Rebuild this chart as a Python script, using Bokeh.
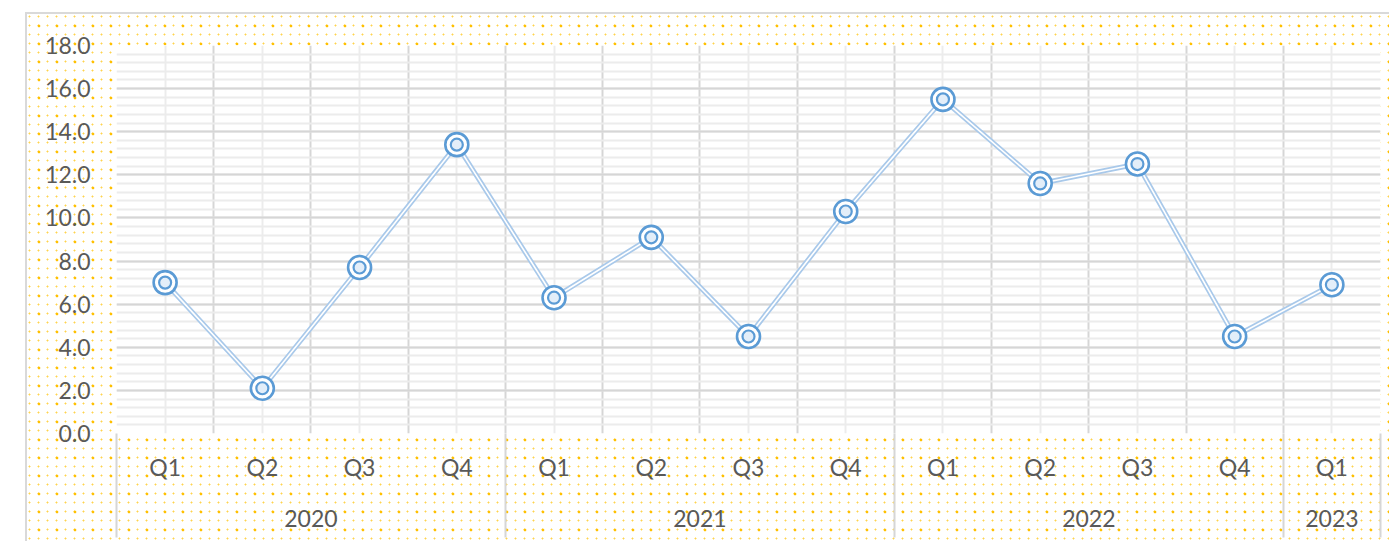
from bokeh.plotting import figure
from bokeh.models import FixedTicker, LinearAxis, Range1d, ColumnDataSource
from bokeh.embed import file_html
from bokeh.resources import INLINE

# ---- data ----
years = ["2020", "2021", "2022", "2023"]
quarters_per_year = [4, 4, 4, 1]
quarters = ["Q1", "Q2", "Q3", "Q4", "Q1", "Q2", "Q3", "Q4", "Q1", "Q2", "Q3", "Q4", "Q1"]
values = [7.0, 2.1, 7.7, 13.4, 6.3, 9.1, 4.5, 10.3, 15.5, 11.6, 12.5, 4.5, 6.9]
y_ticks = [0, 2, 4, 6, 8, 10, 12, 14, 16, 18]

FONT = "Lato"
TEXT = "#595959"
n = len(quarters)
centers = [i + 0.5 for i in range(n)]
bounds = [0]
for c in quarters_per_year:
    bounds.append(bounds[-1] + c)
year_centers = [(bounds[i] + bounds[i + 1]) / 2 for i in range(len(years))]
y_minor = [round(k * 0.4, 2) for k in range(0, 46)]

src = ColumnDataSource(dict(x=centers, y=values, q=quarters))

p = figure(width=1364, height=529, x_range=Range1d(0, n), y_range=Range1d(0, 18),
           output_backend="svg", toolbar_location=None,
           min_border_left=89, min_border_top=31, min_border_right=11, min_border_bottom=110)
p.margin = (12, 0, 0, 25)
p.border_fill_color = None
p.background_fill_color = "white"
p.outline_line_color = None
p.styles = {
    "background-image": ("radial-gradient(circle, #ffc000 1.1px, rgba(255,192,0,0) 1.7px), "
                         "radial-gradient(circle, #ffd34d 0.7px, rgba(255,192,0,0) 1.3px)"),
    "background-size": "18px 18px, 9px 9px",
    "background-position": "3px 3px, 7px 7px",
    "border-top": "2px solid #d9d9d9",
    "border-left": "2px solid #d9d9d9",
}

# y axis
yax = p.yaxis[0]
yax.ticker = FixedTicker(ticks=y_ticks, minor_ticks=y_minor)
yax.major_label_overrides = {t: f"{t:.1f}" for t in y_ticks}
yax.axis_line_color = None
yax.major_tick_line_color = None
yax.minor_tick_line_color = None
yax.major_label_standoff = 20
yax.major_label_text_font = FONT
yax.major_label_text_font_size = "23px"
yax.major_label_text_color = TEXT

# grids
p.ygrid[0].ticker = FixedTicker(ticks=y_ticks, minor_ticks=y_minor)
p.ygrid[0].grid_line_color = "#d6d6d6"
p.ygrid[0].grid_line_width = 2
p.ygrid[0].minor_grid_line_color = "#ececec"
p.ygrid[0].minor_grid_line_width = 2
p.xgrid[0].ticker = FixedTicker(ticks=list(range(0, n + 1)), minor_ticks=centers)
p.xgrid[0].grid_line_color = "#d6d6d6"
p.xgrid[0].grid_line_width = 2
p.xgrid[0].minor_grid_line_color = "#ececec"
p.xgrid[0].minor_grid_line_width = 2

# quarter axis (its minor ticks draw the year separators downward)
qax = p.xaxis[0]
qax.ticker = FixedTicker(ticks=centers, minor_ticks=bounds)
qax.major_label_overrides = {c: q for c, q in zip(centers, quarters)}
qax.axis_line_color = None
qax.major_tick_line_color = None
qax.major_tick_out = 0
qax.major_tick_in = 0
qax.minor_tick_line_color = "#d6d6d6"
qax.minor_tick_line_width = 2
qax.minor_tick_in = -104
qax.minor_tick_out = 0
qax.major_label_standoff = 19
qax.major_label_text_font = FONT
qax.major_label_text_font_size = "23px"
qax.major_label_text_color = TEXT

# year axis
yrax = LinearAxis(ticker=FixedTicker(ticks=year_centers, minor_ticks=[]))
yrax.major_label_overrides = {c: y for c, y in zip(year_centers, years)}
yrax.axis_line_color = None
yrax.major_tick_line_color = None
yrax.minor_tick_line_color = None
yrax.major_tick_out = 0
yrax.major_tick_in = 0
yrax.major_label_standoff = 26
yrax.major_label_text_font = FONT
yrax.major_label_text_font_size = "23px"
yrax.major_label_text_color = TEXT
p.add_layout(yrax, "below")

# series: double line
p.line("x", "y", source=src, line_color="#a9c9ea", line_width=5)
p.line("x", "y", source=src, line_color="white", line_width=1.6)
# markers: double ring
p.scatter("x", "y", source=src, size=23, marker="circle", fill_color="white",
          line_color="#5b9bd5", line_width=2.6)
p.scatter("x", "y", source=src, size=12, marker="circle", fill_color="#e3eef9",
          line_color="#5b9bd5", line_width=2.2)

open("out.html", "w").write(file_html(p, INLINE))
